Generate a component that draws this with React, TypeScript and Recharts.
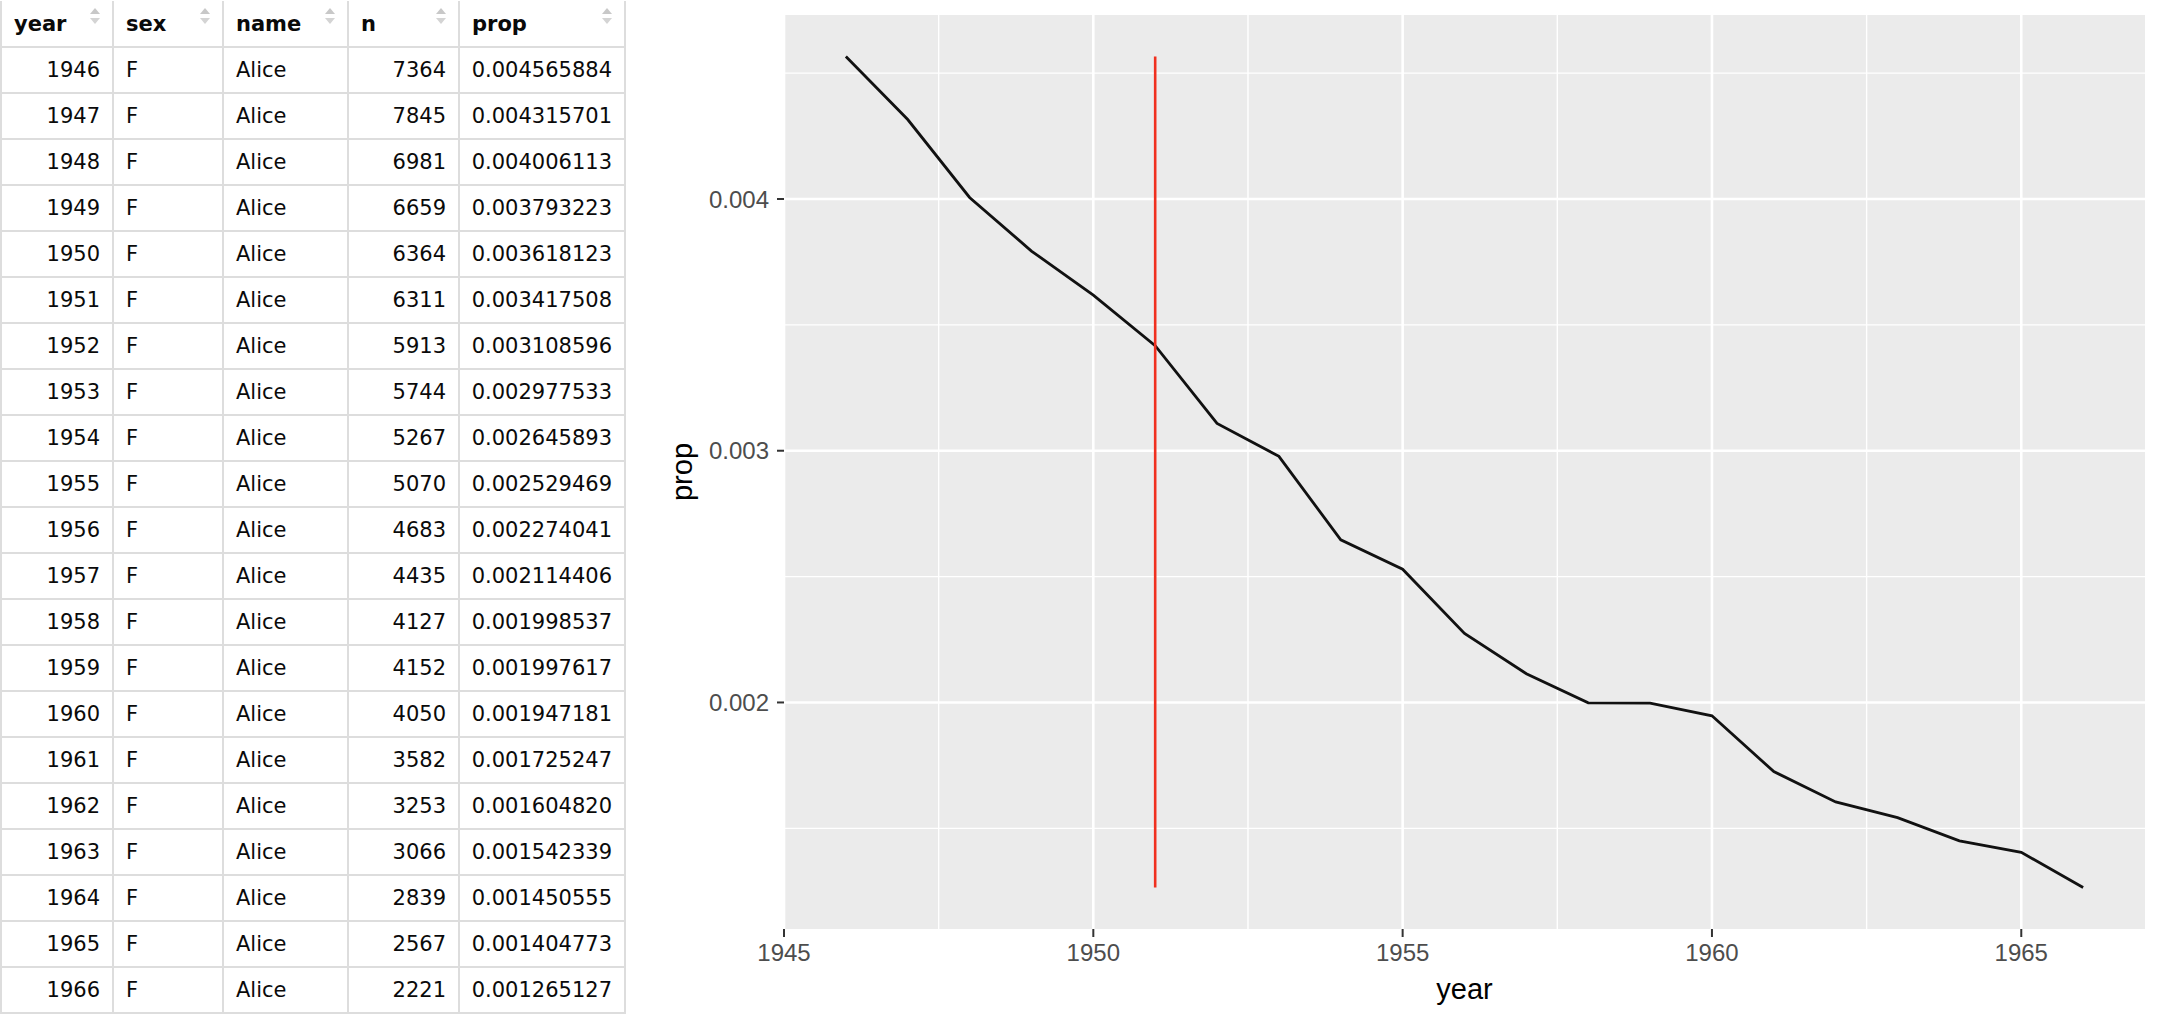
import React from 'react';
import { LineChart, Line, XAxis, YAxis, CartesianGrid, ReferenceLine, Label } from 'recharts';

const years = [1946, 1947, 1948, 1949, 1950, 1951, 1952, 1953, 1954, 1955, 1956, 1957, 1958, 1959, 1960, 1961, 1962, 1963, 1964, 1965, 1966];
const sexes = ['F', 'F', 'F', 'F', 'F', 'F', 'F', 'F', 'F', 'F', 'F', 'F', 'F', 'F', 'F', 'F', 'F', 'F', 'F', 'F', 'F'];
const names = ['Alice', 'Alice', 'Alice', 'Alice', 'Alice', 'Alice', 'Alice', 'Alice', 'Alice', 'Alice', 'Alice', 'Alice', 'Alice', 'Alice', 'Alice', 'Alice', 'Alice', 'Alice', 'Alice', 'Alice', 'Alice'];
const counts = [7364, 7845, 6981, 6659, 6364, 6311, 5913, 5744, 5267, 5070, 4683, 4435, 4127, 4152, 4050, 3582, 3253, 3066, 2839, 2567, 2221];
const props = [0.004565884, 0.004315701, 0.004006113, 0.003793223, 0.003618123, 0.003417508, 0.003108596, 0.002977533, 0.002645893, 0.002529469, 0.002274041, 0.002114406, 0.001998537, 0.001997617, 0.001947181, 0.001725247, 0.00160482, 0.001542339, 0.001450555, 0.001404773, 0.001265127];

const columns = ['year', 'sex', 'name', 'n', 'prop'];
const xMajorTicks = [1945, 1950, 1955, 1960, 1965];
const xMinorGrid = [1947.5, 1952.5, 1957.5, 1962.5];
const yMajorTicks = [0.002, 0.003, 0.004];
const yMinorGrid = [0.0015, 0.0025, 0.0035, 0.0045];
const markYear = 1951;

const data = years.map((y, i) => ({ year: y, prop: props[i] }));
const minProp = Math.min(...props);
const maxProp = Math.max(...props);
const minYear = Math.min(...years);
const maxYear = Math.max(...years);
const xPad = (maxYear - minYear) * 0.05;
const yPad = (maxProp - minProp) * 0.05;

const colWidths = [112, 110, 125, 111, 166];
const colAlign = ['flex-end', 'flex-start', 'flex-start', 'flex-end', 'flex-end'];
const tableFont = '"DejaVu Sans", "Lucida Grande", sans-serif';
const chartFont = '"Liberation Sans", Arial, Helvetica, sans-serif';
const borderColor = '#dddddd';

const SortIcon = () => (
  <svg width="10" height="17" viewBox="0 0 10 17" style={{ position: 'absolute', right: 12, top: 7 }}>
    <polygon points="5,0 10,6 0,6" fill="#c8c8c8" />
    <polygon points="0,10 10,10 5,16" fill="#d4d4d4" />
  </svg>
);

const DataTable = () => {
  const rows = years.map((y, i) => [String(y), sexes[i], names[i], String(counts[i]), props[i].toFixed(9)]);
  return (
    <div
      style={{
        position: 'absolute',
        left: 0,
        top: 1,
        display: 'grid',
        gridTemplateColumns: colWidths.map((w) => `${w}px`).join(' '),
        gridTemplateRows: `47px repeat(${rows.length}, 46px)`,
        borderLeft: `2px solid ${borderColor}`,
        fontFamily: tableFont,
        fontSize: 21,
        color: '#0a0a0a',
      }}
    >
      {columns.map((c) => (
        <div
          key={c}
          style={{
            position: 'relative',
            boxSizing: 'border-box',
            borderRight: `2px solid ${borderColor}`,
            borderBottom: `2px solid ${borderColor}`,
            display: 'flex',
            alignItems: 'center',
            padding: '0 12px',
            fontWeight: 700,
          }}
        >
          {c}
          <SortIcon />
        </div>
      ))}
      {rows.map((r, ri) =>
        r.map((v, ci) => (
          <div
            key={`${ri}-${ci}`}
            style={{
              boxSizing: 'border-box',
              borderRight: `2px solid ${borderColor}`,
              borderBottom: `2px solid ${borderColor}`,
              display: 'flex',
              alignItems: 'center',
              justifyContent: colAlign[ci],
              padding: '0 12px',
              whiteSpace: 'nowrap',
            }}
          >
            {v}
          </div>
        ))
      )}
    </div>
  );
};

const YTitle = (p: any) => {
  const vb = p.viewBox || { x: 0, y: 15, width: 144, height: 914 };
  const cx = vb.x + 42;
  const cy = vb.y + vb.height / 2;
  return (
    <text
      x={cx}
      y={cy}
      transform={`rotate(-90, ${cx}, ${cy})`}
      textAnchor="middle"
      dominantBaseline="central"
      fontSize={29}
      fontFamily={chartFont}
      fill="#000"
    >
      prop
    </text>
  );
};

const XTitle = (p: any) => {
  const vb = p.viewBox || { x: 144, y: 929, width: 1361, height: 89 };
  const cx = vb.x + vb.width / 2;
  const cy = vb.y + 60;
  return (
    <text x={cx} y={cy} textAnchor="middle" dominantBaseline="central" fontSize={29} fontFamily={chartFont} fill="#000">
      year
    </text>
  );
};

export default function App() {
  return (
    <div style={{ position: 'absolute', left: 0, top: 0, width: 2160, height: 1018, background: '#fff' }}>
      <DataTable />
      <div style={{ position: 'absolute', left: 640, top: 0 }}>
        <LineChart width={1520} height={1018} data={data} margin={{ top: 15, right: 15, bottom: 0, left: 0 }}>
          <CartesianGrid
            fill="#EBEBEB"
            fillOpacity={1}
            stroke="#ffffff"
            strokeWidth={1.4}
            horizontalValues={yMinorGrid}
            verticalValues={xMinorGrid}
          />
          <CartesianGrid
            stroke="#ffffff"
            strokeWidth={2.6}
            horizontalValues={yMajorTicks}
            verticalValues={xMajorTicks}
          />
          <XAxis
            dataKey="year"
            type="number"
            domain={[minYear - xPad, maxYear + xPad]}
            allowDataOverflow
            ticks={xMajorTicks}
            height={89}
            axisLine={false}
            tickSize={8}
            tickMargin={7}
            tickLine={{ stroke: '#333333', strokeWidth: 2 }}
            tick={{ fill: '#4D4D4D', fontSize: 24, fontFamily: chartFont }}
          >
            <Label content={XTitle} />
          </XAxis>
          <YAxis
            dataKey="prop"
            type="number"
            domain={[minProp - yPad, maxProp + yPad]}
            allowDataOverflow
            ticks={yMajorTicks}
            width={144}
            axisLine={false}
            tickSize={7}
            tickMargin={8}
            tickFormatter={(v: number) => v.toFixed(3)}
            tickLine={{ stroke: '#333333', strokeWidth: 2 }}
            tick={{ fill: '#4D4D4D', fontSize: 24, fontFamily: chartFont }}
          >
            <Label content={YTitle} />
          </YAxis>
          <Line
            type="linear"
            dataKey="prop"
            stroke="#111111"
            strokeWidth={2.8}
            dot={false}
            activeDot={false}
            isAnimationActive={false}
          />
          <ReferenceLine
            segment={[
              { x: markYear, y: minProp },
              { x: markYear, y: maxProp },
            ]}
            stroke="#F0301F"
            strokeWidth={2.6}
            ifOverflow="visible"
          />
        </LineChart>
      </div>
    </div>
  );
}
